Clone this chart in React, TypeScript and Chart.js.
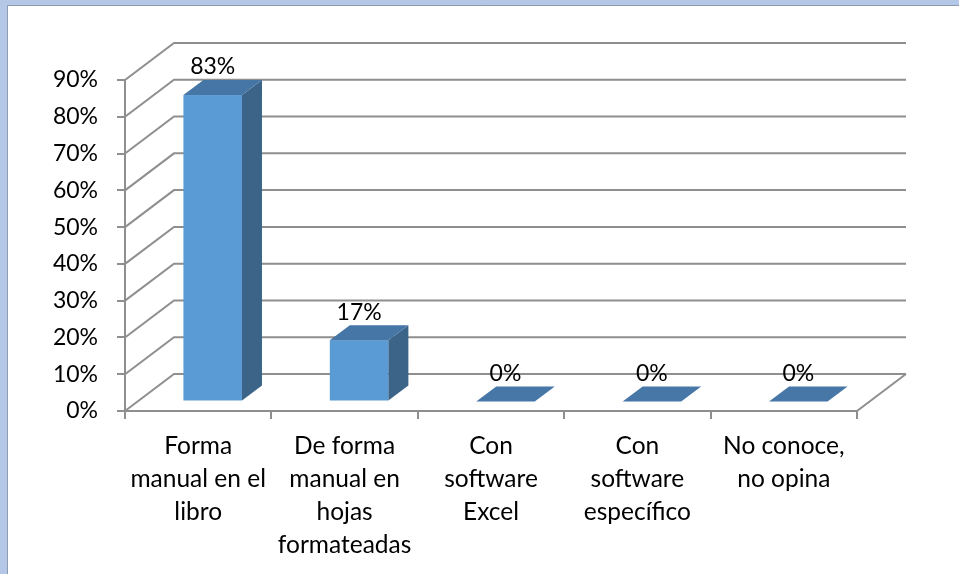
import React, { useEffect, useRef } from "react";
import { Chart, registerables } from "chart.js";

Chart.register(...registerables);

const categories: string[][] = [
  ["Forma", "manual en el", "libro"],
  ["De forma", "manual en", "hojas", "formateadas"],
  ["Con", "software", "Excel"],
  ["Con", "software", "específico"],
  ["No conoce,", "no opina"],
];
const values: number[] = [83.33, 16.67, 0, 0, 0];
const yTickMax = 90;
const yTickStep = 10;

const FONT = "Lato, 'Open Sans', sans-serif";
const GRID = "#8f8f8f";

// 3D geometry (pixels)
const WALL_DX = 49;
const WALL_DY = -37;
const BAR_FX = 14.5;
const BAR_FY = -9.5;
const BAR_DX = 20;
const BAR_DY = -15;

const threeD = {
  id: "threeD",
  beforeDraw(chart: any) {
    const ctx = chart.ctx;
    const W = chart.width;
    const H = chart.height;
    ctx.save();
    ctx.fillStyle = "#b4c7e7";
    ctx.fillRect(0, 0, W, H);
    ctx.fillStyle = "#ffffff";
    ctx.fillRect(8, 6, W - 8, H - 6);
    ctx.strokeStyle = "#8d9bb0";
    ctx.lineWidth = 1;
    ctx.beginPath();
    ctx.moveTo(7.5, H);
    ctx.lineTo(7.5, 5.5);
    ctx.lineTo(W, 5.5);
    ctx.stroke();
    ctx.restore();
  },
  beforeDatasetsDraw(chart: any) {
    const ctx = chart.ctx;
    const { left, right, bottom } = chart.chartArea;
    const y = chart.scales.y;
    ctx.save();
    ctx.strokeStyle = GRID;
    ctx.lineWidth = 2;
    ctx.beginPath();
    for (const t of y.ticks) {
      const py = y.getPixelForValue(t.value);
      ctx.moveTo(left, py);
      ctx.lineTo(left + WALL_DX, py + WALL_DY);
      ctx.lineTo(right + WALL_DX, py + WALL_DY);
    }
    ctx.moveTo(right, bottom);
    ctx.lineTo(right + WALL_DX, bottom + WALL_DY);
    ctx.stroke();
    ctx.restore();
  },
  afterDatasetsDraw(chart: any) {
    const ctx = chart.ctx;
    const meta = chart.getDatasetMeta(0);
    ctx.save();
    meta.data.forEach((bar: any, i: number) => {
      const p = bar.getProps(["x", "y", "base", "width"], true);
      const x0 = p.x - p.width / 2 + BAR_FX;
      const x1 = p.x + p.width / 2 + BAR_FX;
      const yt = p.y + BAR_FY;
      const yb = p.base + BAR_FY;
      const h = yb - yt;
      if (h > 0.5) {
        ctx.fillStyle = "#5b9bd5";
        ctx.fillRect(x0, yt, x1 - x0, h);
        ctx.fillStyle = "#3c6489";
        ctx.beginPath();
        ctx.moveTo(x1, yt);
        ctx.lineTo(x1 + BAR_DX, yt + BAR_DY);
        ctx.lineTo(x1 + BAR_DX, yb + BAR_DY);
        ctx.lineTo(x1, yb);
        ctx.closePath();
        ctx.fill();
      }
      ctx.fillStyle = h > 0.5 ? "#4576a6" : "#4677a7";
      ctx.beginPath();
      ctx.moveTo(x0, yt);
      ctx.lineTo(x1, yt);
      ctx.lineTo(x1 + BAR_DX, yt + BAR_DY);
      ctx.lineTo(x0 + BAR_DX, yt + BAR_DY);
      ctx.closePath();
      ctx.fill();

      ctx.fillStyle = "#000000";
      ctx.font = `23px ${FONT}`;
      ctx.textAlign = "center";
      ctx.textBaseline = "middle";
      ctx.fillText(Math.round(values[i]) + "%", (x0 + x1) / 2, yt + BAR_DY - 13);
    });
    ctx.restore();
  },
};

export default function App() {
  const ref = useRef<HTMLCanvasElement | null>(null);
  useEffect(() => {
    if (!ref.current) return;
    const chart = new Chart(ref.current, {
      type: "bar",
      data: {
        labels: categories,
        datasets: [
          {
            data: values,
            backgroundColor: "rgba(0,0,0,0)",
            borderWidth: 0,
            categoryPercentage: 1,
            barPercentage: 0.4,
          },
        ],
      },
      options: {
        responsive: false,
        animation: false,
        devicePixelRatio: 1,
        layout: { padding: { top: 80, right: 102, left: 0, bottom: 0 } },
        plugins: { legend: { display: false }, tooltip: { enabled: false } },
        scales: {
          x: {
            afterFit: (s: any) => {
              s.height = 163;
            },
            grid: {
              drawOnChartArea: false,
              drawTicks: true,
              tickLength: 8,
              color: GRID,
              lineWidth: 2,
              offset: true,
            },
            border: { display: true, color: GRID, width: 2 },
            ticks: {
              color: "#000000",
              font: { family: FONT, size: 24.5, lineHeight: "33px" },
              padding: 11,
              maxRotation: 0,
              autoSkip: false,
            },
          },
          y: {
            min: 0,
            max: yTickMax,
            afterFit: (s: any) => {
              s.width = 125;
            },
            grid: {
              drawOnChartArea: false,
              drawTicks: true,
              tickLength: 8,
              color: GRID,
              lineWidth: 2,
            },
            border: { display: true, color: GRID, width: 2 },
            ticks: {
              stepSize: yTickStep,
              color: "#000000",
              font: { family: FONT, size: 23 },
              padding: 19,
              callback: (v: any) => v + "%",
            },
          },
        },
      },
      plugins: [threeD],
    });
    return () => chart.destroy();
  }, []);
  return (
    <canvas
      ref={ref}
      width={959}
      height={574}
      style={{ position: "fixed", left: 0, top: 0, width: 959, height: 574 }}
    />
  );
}
